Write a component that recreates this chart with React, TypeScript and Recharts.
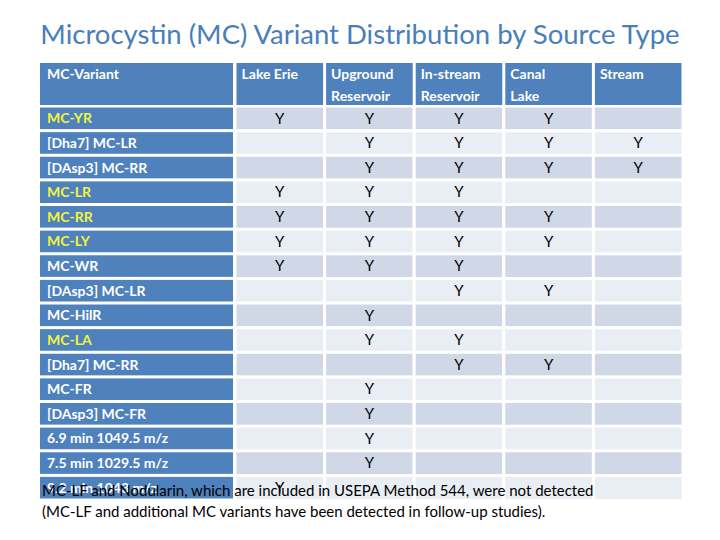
import React from "react";
import { BarChart, Bar, XAxis, YAxis, Cell, LabelList } from "recharts";

const variants = [
  "MC-YR",
  "[Dha7] MC-LR",
  "[DAsp3] MC-RR",
  "MC-LR",
  "MC-RR",
  "MC-LY",
  "MC-WR",
  "[DAsp3] MC-LR",
  "MC-HilR",
  "MC-LA",
  "[Dha7] MC-RR",
  "MC-FR",
  "[DAsp3] MC-FR",
  "6.9 min 1049.5 m/z",
  "7.5 min 1029.5 m/z",
  "9.2 min 1043 m/z",
];
const highlighted = ["MC-YR", "MC-LR", "MC-RR", "MC-LY", "MC-LA"];
const sourceHeaders = [["Lake Erie"], ["Upground", "Reservoir"], ["In-stream", "Reservoir"], ["Canal", "Lake"], ["Stream"]];
const variantHeader = "MC-Variant";
const lakeErie = ["Y", "", "", "Y", "Y", "Y", "Y", "", "", "", "", "", "", "", "", "Y"];
const upgroundReservoir = ["Y", "Y", "Y", "Y", "Y", "Y", "Y", "", "Y", "Y", "", "Y", "Y", "Y", "Y", ""];
const instreamReservoir = ["Y", "Y", "Y", "Y", "Y", "Y", "Y", "Y", "", "Y", "Y", "", "", "", "", ""];
const canalLake = ["Y", "Y", "Y", "", "Y", "Y", "", "Y", "", "", "Y", "", "", "", "", ""];
const stream = ["", "Y", "Y", "", "", "", "", "", "", "", "", "", "", "", "", ""];
const title = "Microcystin (MC) Variant Distribution by Source Type";
const footnote1 = "MC-LF and Nodularin, which are included in USEPA Method 544, were not detected";
const footnote2 = "(MC-LF and additional MC variants have been detected in follow-up studies).";

const columns = [lakeErie, upgroundReservoir, instreamReservoir, canalLake, stream];

const tableData = variants.map((v, i) => {
  const row: any = { variant: v };
  columns.forEach((col, c) => {
    row["c" + c] = 1;
    row["m" + c] = col[i];
  });
  return row;
});

const W = 720;
const H = 540;
const MARGIN = { top: 63, right: 37, bottom: 40, left: 40 };
const YAXIS_W = 195;
const XAXIS_H = 43;
const PLOT_LEFT = MARGIN.left + YAXIS_W;
const PLOT_TOP = MARGIN.top + XAXIS_H;
const PLOT_W = W - PLOT_LEFT - MARGIN.right;
const PLOT_H = H - PLOT_TOP - MARGIN.bottom;
const ROW_H = PLOT_H / variants.length;
const COL_W = PLOT_W / columns.length;
const BLUE = "#4F81BD";
const FONT = "Lato, 'Open Sans', sans-serif";

const VariantTick = (props: any) => {
  const { y, payload } = props;
  const label = payload.value;
  const isHi = highlighted.includes(label);
  return (
    <g>
      <rect x={MARGIN.left} y={y - ROW_H / 2 + 1.5} width={YAXIS_W - 2} height={ROW_H - 3} fill={BLUE} />
      <text x={MARGIN.left + 7} y={y + 5} fill={isHi ? "#F2F53A" : "#FFFFFF"} fontWeight={700} fontSize={14} fontFamily={FONT}>
        {label}
      </text>
    </g>
  );
};

const HeaderTick = (props: any) => {
  const { x, index } = props;
  const lines = sourceHeaders[index] || [];
  const left = x - COL_W / 2 + 1.5;
  return (
    <g>
      {index === 0 && (
        <g>
          <rect x={MARGIN.left} y={MARGIN.top} width={YAXIS_W - 2} height={XAXIS_H - 1} fill={BLUE} />
          <text x={MARGIN.left + 7} y={MARGIN.top + 16} fill="#fff" fontWeight={700} fontSize={14} fontFamily={FONT}>
            {variantHeader}
          </text>
        </g>
      )}
      <rect x={left} y={MARGIN.top} width={COL_W - 3} height={XAXIS_H - 1} fill={BLUE} />
      {lines.map((ln, k) => (
        <text key={k} x={left + 5} y={MARGIN.top + 16 + k * 22} fill="#fff" fontWeight={700} fontSize={14} fontFamily={FONT}>
          {ln}
        </text>
      ))}
    </g>
  );
};

const renderMark = (props: any) => {
  const { x, y, width, height, value } = props;
  if (!value) return null;
  return (
    <text x={x + width / 2} y={y + height / 2 + 5} textAnchor="middle" fill="#000" fontSize={15} fontFamily={FONT}>
      {value}
    </text>
  );
};

export default function App() {
  return (
    <div style={{ position: "absolute", left: 0, top: 0, width: W, height: H, background: "#fff" }}>
      <div
        style={{
          position: "absolute",
          left: 0,
          top: 16,
          width: W,
          textAlign: "center",
          fontFamily: FONT,
          fontSize: 27.5,
          lineHeight: "36px",
          color: "#4A7EBB",
          whiteSpace: "nowrap",
        }}
      >
        {title}
      </div>
      <BarChart
        width={W}
        height={H}
        data={tableData}
        layout="vertical"
        margin={MARGIN}
        barCategoryGap={0}
      >
        <XAxis
          type="number"
          orientation="top"
          domain={[0, columns.length]}
          ticks={[0.5, 1.5, 2.5, 3.5, 4.5]}
          height={XAXIS_H}
          axisLine={false}
          tickLine={false}
          tick={<HeaderTick />}
          interval={0}
        />
        <YAxis
          type="category"
          dataKey="variant"
          width={YAXIS_W}
          axisLine={false}
          tickLine={false}
          tick={<VariantTick />}
          interval={0}
        />
        {columns.map((_, c) => (
          <Bar key={c} dataKey={"c" + c} stackId="t" isAnimationActive={false} stroke="#FFFFFF" strokeWidth={3}>
            {tableData.map((_, i) => (
              <Cell key={i} fill={i % 2 === 0 ? "#D0D8E8" : "#E9EDF4"} />
            ))}
            <LabelList dataKey={"m" + c} content={renderMark} />
          </Bar>
        ))}
      </BarChart>
      <div
        style={{
          position: "absolute",
          left: 42,
          top: 480,
          fontFamily: FONT,
          fontSize: 15,
          lineHeight: "21px",
          color: "#000",
          whiteSpace: "nowrap",
        }}
      >
        <div>{footnote1}</div>
        <div>{footnote2}</div>
      </div>
    </div>
  );
}
